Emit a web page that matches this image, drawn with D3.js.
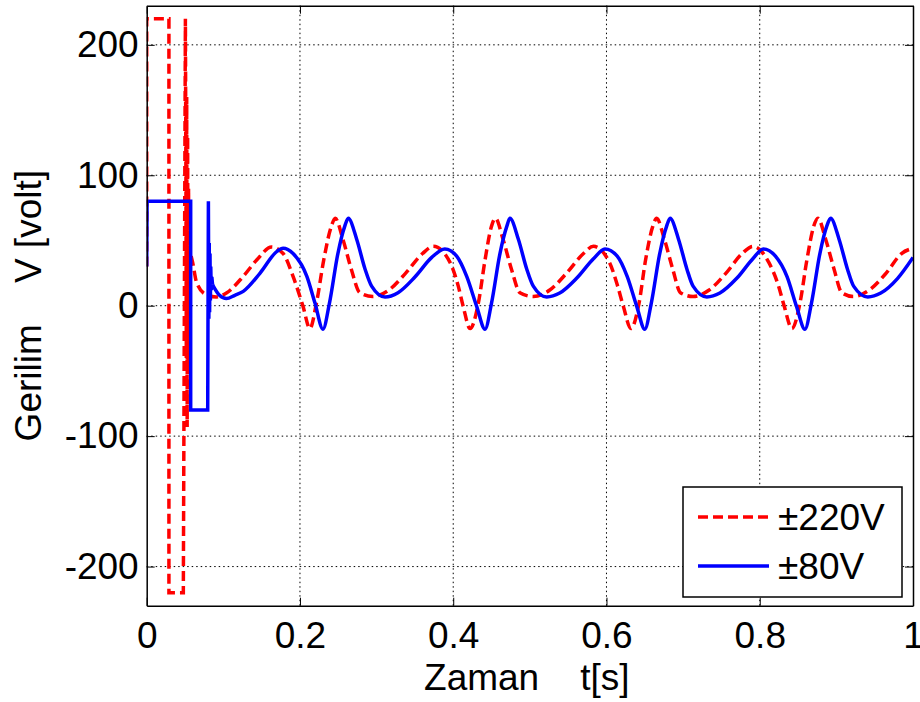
<!DOCTYPE html>
<meta charset="utf-8">
<style>
body { margin: 0; background: #fff; }
text { font-family: "Liberation Sans", Arial, sans-serif; fill: #000; }
.grid line { stroke: #000; stroke-width: 1; stroke-dasharray: 1.5,3; }
</style>
<body>
<script src="https://d3js.org/d3.v7.min.js"></script>
<script>

var width = 920,
    height = 702,
    margin = {left: 146.7, right: 7, top: 5.7, bottom: 96.3};

var xTicks = [0, 0.2, 0.4, 0.6, 0.8, 1];
var yTicks = [-200, -100, 0, 100, 200];
var seriesNames = ["\u00b1220V", "\u00b180V"];

// ±220V : switching transient (straight segments)
var redStart = [[0,30],[0,220],[0.029,220],[0.029,-220],[0.0478,-220],[0.0505,220],[0.0512,95],
  [0.0517,-40],[0.0522,160],[0.0528,-93],[0.0534,130],[0.054,-50],[0.0546,90],[0.0552,-10],
  [0.0558,60],[0.0565,30],[0.058,38]];
// ±220V : after the transient
var redRest = [[0.058,38],[0.060,33],[0.065,18],[0.0775,8.5],[0.091,6.7],[0.104,9.7],[0.126,22.5],
  [0.1435,35],[0.163,45],[0.178,40],[0.191,22.5],[0.204,-0.5],[0.213,-17.5],
  [0.2215,2],[0.231,35],[0.241,61],[0.246,67],[0.256,51],[0.267,28],[0.278,10],[0.295,7],
  [0.316,12],[0.338,25],[0.360,40],[0.374,45.5],
  [0.396,33],[0.4066,15],[0.413,-0.5],[0.422,-17.5],[0.4328,2],[0.4415,35],[0.450,61],[0.455,67],
  [0.465,51],[0.476,28],[0.487,10],[0.5045,7],[0.526,12],[0.548,25],[0.570,40],[0.583,45.5],
  [0.604,33],[0.6146,15],[0.622,-0.5],[0.632,-17.5],[0.6425,2],[0.651,35],[0.6605,61],[0.6655,67],
  [0.6755,51],[0.6865,28],[0.6965,10],[0.713,7],[0.734,12],[0.756,25],[0.777,40],[0.791,45.5],
  [0.812,33],[0.8246,15],[0.832,-0.5],[0.842,-17.5],[0.8525,2],[0.8615,35],[0.8705,61],[0.876,67],
  [0.886,51],[0.897,28],[0.907,10],[0.922,7],[0.943,12],[0.965,25],[0.985,40],[1.0,44]];

// ±80V : switching transient
var blueStart = [[0,30],[0.0005,80],[0.0574,80],[0.0574,-80],[0.0796,-80],[0.0805,80],[0.0811,-10],
  [0.0816,48],[0.0821,-5],[0.0826,40],[0.0831,4],[0.0836,30],[0.0842,12],[0.085,22],[0.086,16]];
// ±80V : after the transient
var blueRest = [[0.086,16],[0.095,8],[0.104,5.5],[0.115,8],[0.126,11],[0.148,25],[0.170,41.7],
  [0.178,44],[0.191,40],[0.209,22.5],[0.2196,2],[0.230,-18],
  [0.2385,2],[0.2495,40],[0.2585,61],[0.263,67],[0.274,51],[0.285,28],[0.2935,15],[0.311,6.7],
  [0.328,10],[0.350,22],[0.372,37],[0.389,43.5],
  [0.4045,38],[0.4176,22.5],[0.4306,-0.5],[0.4415,-18],[0.450,2],[0.461,40],[0.470,61],[0.474,67],
  [0.485,51],[0.496,28],[0.5045,15],[0.522,6.7],[0.539,9.7],[0.561,21],[0.583,36],[0.598,43.5],
  [0.614,38],[0.627,22.5],[0.6395,-0.5],[0.650,-18],[0.6585,2],[0.6695,40],[0.6785,61],[0.683,67],
  [0.694,51],[0.705,28],[0.713,15],[0.731,6.7],[0.748,9.7],[0.770,21],[0.791,36],[0.8047,43.5],
  [0.8205,38],[0.8355,22.5],[0.848,-0.5],[0.859,-18],[0.8675,2],[0.8785,40],[0.8875,61],[0.8925,67],
  [0.9035,51],[0.9145,28],[0.9225,15],[0.941,6.7],[0.958,9.7],[0.980,21],[1.0,37]];

var w = width - margin.left - margin.right,
    h = height - margin.top - margin.bottom;

var svg = d3.select("body").append("svg")
    .attr("width", width)
    .attr("height", height);

var g = svg.append("g")
    .attr("transform", "translate(" + margin.left + "," + margin.top + ")");

var x = d3.scaleLinear().domain([0, 1]).range([0, w]);
var y = d3.scaleLinear().domain([-230, 230]).range([h, 0]);

// grid
var grid = g.append("g").attr("class", "grid");
grid.selectAll(".gx")
    .data(xTicks.filter(function(d) { return d > 0 && d < 1; }))
  .enter().append("line")
    .attr("x1", x).attr("x2", x)
    .attr("y1", 0).attr("y2", h);
grid.selectAll(".gy")
    .data(yTicks)
  .enter().append("line")
    .attr("y1", y).attr("y2", y)
    .attr("x1", 0).attr("x2", w);

// clip
g.append("clipPath").attr("id", "clip")
  .append("rect").attr("width", w).attr("height", h);

var lineStraight = d3.line()
    .x(function(d) { return x(d[0]); })
    .y(function(d) { return y(d[1]); });

var lineSmooth = d3.line()
    .curve(d3.curveMonotoneX)
    .x(function(d) { return x(d[0]); })
    .y(function(d) { return y(d[1]); });

var plot = g.append("g").attr("clip-path", "url(#clip)");

function drawSeries(start, rest, color, dash) {
  plot.append("path")
      .attr("d", lineStraight(start))
      .attr("fill", "none")
      .attr("stroke", color)
      .attr("stroke-width", 3.5)
      .attr("stroke-dasharray", dash);
  plot.append("path")
      .attr("d", lineSmooth(rest))
      .attr("fill", "none")
      .attr("stroke", color)
      .attr("stroke-width", 3.5)
      .attr("stroke-dasharray", dash);
}

drawSeries(redStart, redRest, "#ff0000", "10,5");
drawSeries(blueStart, blueRest, "#0000ff", null);

// axes (MATLAB style: box with inward ticks)
var tickLen = 8;
var plain = function(d) { return String(d); };
g.append("g")
    .attr("transform", "translate(0," + h + ")")
    .call(d3.axisBottom(x).tickValues(xTicks).tickSizeInner(-tickLen).tickSizeOuter(0).tickFormat(plain));
g.append("g")
    .call(d3.axisTop(x).tickValues(xTicks).tickSizeInner(-tickLen).tickSizeOuter(0).tickFormat(""));
g.append("g")
    .call(d3.axisLeft(y).tickValues(yTicks).tickSizeInner(-tickLen).tickSizeOuter(0).tickFormat(plain));
g.append("g")
    .attr("transform", "translate(" + w + ",0)")
    .call(d3.axisRight(y).tickValues(yTicks).tickSizeInner(-tickLen).tickSizeOuter(0).tickFormat(""));

g.selectAll(".domain").attr("stroke", "#000").attr("stroke-width", 1.5);
g.selectAll(".tick line").attr("stroke", "#000").attr("stroke-width", 1);
g.selectAll(".tick text")
    .style("font-family", "'Liberation Sans', Arial, sans-serif")
    .style("font-size", "37px")
    .attr("fill", "#000");

// adjust tick label offsets
g.selectAll(".tick text").each(function() {
  var t = d3.select(this);
  if (t.attr("x") !== null && +t.attr("x") < 0) t.attr("x", -8);
  if (t.attr("y") !== null && +t.attr("y") > 0) t.attr("y", 16);
});

// axis labels
g.append("text")
    .attr("x", w / 2 - 3)
    .attr("y", h + 84.5)
    .attr("text-anchor", "middle")
    .style("font-size", "37px")
    .style("white-space", "pre")
    .text("Zaman    t[s]");

svg.append("text")
    .attr("transform", "translate(41," + (margin.top + h / 2) + ") rotate(-90)")
    .attr("text-anchor", "middle")
    .style("font-size", "37px")
    .style("white-space", "pre")
    .text("Gerilim    V [volt]");

// legend
var lg = svg.append("g").attr("transform", "translate(683,487)");
lg.append("rect")
    .attr("width", 219)
    .attr("height", 110)
    .attr("fill", "#fff")
    .attr("stroke", "#000")
    .attr("stroke-width", 1.5);

var items = lg.selectAll(".item")
    .data(seriesNames)
  .enter().append("g")
    .attr("transform", function(d, i) { return "translate(0," + (30 + i * 49) + ")"; });

items.append("line")
    .attr("x1", 15).attr("x2", 86)
    .attr("stroke", function(d, i) { return i === 0 ? "#ff0000" : "#0000ff"; })
    .attr("stroke-width", 3.5)
    .attr("stroke-dasharray", function(d, i) { return i === 0 ? "10,5" : null; });

items.append("text")
    .attr("x", 95)
    .attr("y", 13)
    .style("font-size", "37px")
    .text(function(d) { return d; });

</script>
